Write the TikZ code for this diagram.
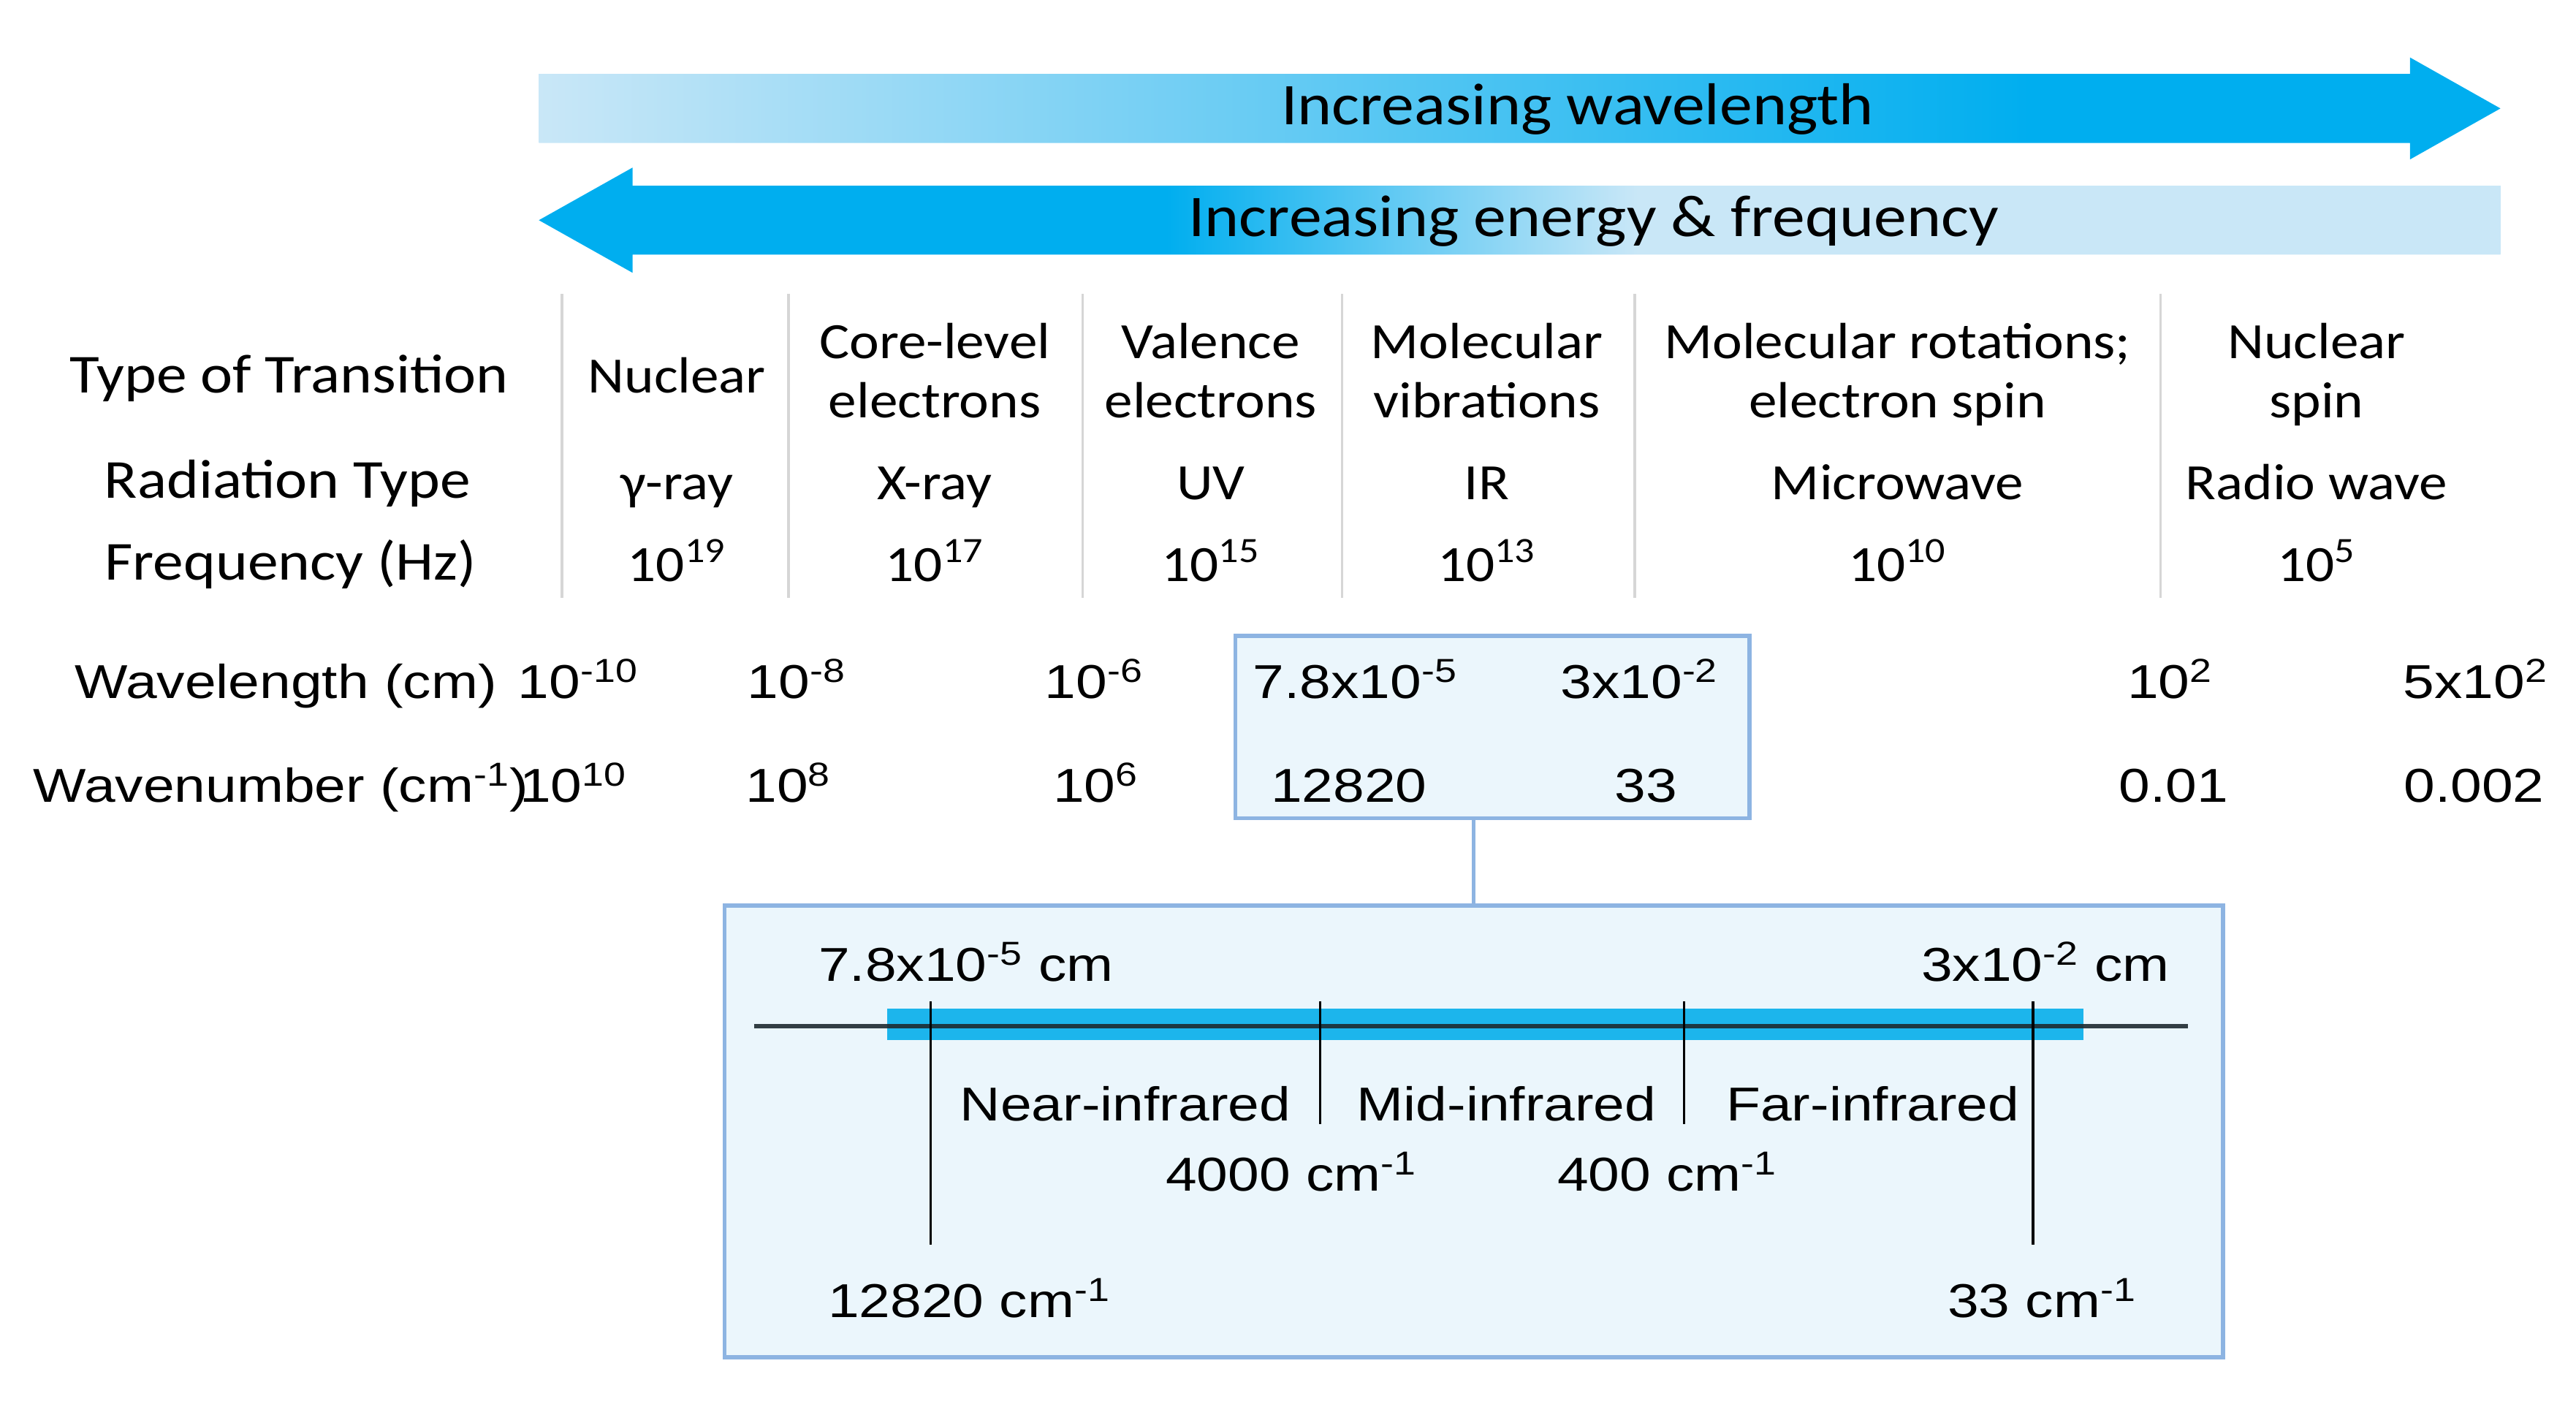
\documentclass[tikz,border=0pt]{standalone}
\usepackage{fontspec}
\usetikzlibrary{fit}
\newfontfamily\upf[FakeStretch=1.11]{Carlito}
\newfontfamily\lowf[FakeStretch=1.18]{Liberation Sans}
\definecolor{palec}{HTML}{C9E7F7}
\definecolor{cyanc}{HTML}{00AEEF}
\definecolor{boxfill}{HTML}{EBF6FC}
\definecolor{boxline}{HTML}{8DB4E2}
\definecolor{sepc}{HTML}{D6D6D6}
\definecolor{barc}{HTML}{1CB5EC}
\definecolor{axisc}{HTML}{1E2A30}
\pgfdeclarehorizontalshading{wlgrad}{100bp}{color(0bp)=(palec); color(25bp)=(palec); color(63bp)=(cyanc); color(100bp)=(cyanc)}
\pgfdeclarehorizontalshading{engrad}{100bp}{color(0bp)=(cyanc); color(41bp)=(cyanc); color(53bp)=(palec); color(100bp)=(palec)}
\begin{document}
\begin{tikzpicture}[x=0.022477cm, y=-0.022477cm,
 arrtxt/.style={font=\upf\fontsize{23pt}{27pt}\selectfont, anchor=base, inner sep=0},
 rowlab/.style={font=\upf\fontsize{21.4pt}{25pt}\selectfont, anchor=base, inner sep=0},
 colt/.style={font=\upf\fontsize{19.8pt}{24pt}\selectfont, anchor=base, inner sep=0},
 lowt/.style={font=\lowf\fontsize{18.5pt}{22pt}\selectfont, anchor=base, inner sep=0},
 sepline/.style={draw=sepc, line width=1pt},
 zbox/.style={draw=boxline, fill=boxfill, line width=1.6pt, inner sep=0},
 tickline/.style={draw=black, line width=1pt},
]
\useasboundingbox (0,0) rectangle (1568,861);

% gradient arrows
\shade[shading=wlgrad] (328,45) -- (1467,45) -- (1467,35) -- (1522,66) -- (1467,97) -- (1467,87) -- (328,87) -- cycle;
\shade[shading=engrad] (1522,113) -- (385,113) -- (385,102) -- (328,134) -- (385,166) -- (385,155) -- (1522,155) -- cycle;
\node[arrtxt] (wl) at (960,76) {Increasing wavelength};
\node[arrtxt] (en) at (970,144) {Increasing energy \& frequency};

% table separators
\foreach \sx/\nm in {342/s1,480/s2,659/s3,817/s4,995/s5,1315/s6}{
  \draw[sepline] (\sx,179) -- (\sx,364);
}

% row labels
\node[rowlab] (rl1) at (176,239) {Type of Transition};
\node[rowlab] (rl2) at (175,303) {Radiation Type};
\node[rowlab] (rl3) at (177,353) {Frequency (Hz)};

% columns
\node[colt] (c1a) at (412,239) {Nuclear};
\node[colt] (c2a) at (569,218) {Core-level};
\node[colt] (c2b) at (569,254) {electrons};
\node[colt] (c3a) at (737,218) {Valence};
\node[colt] (c3b) at (737,254) {electrons};
\node[colt] (c4a) at (905,218) {Molecular};
\node[colt] (c4b) at (905,254) {vibrations};
\node[colt] (c5a) at (1155,218) {Molecular rotations;};
\node[colt] (c5b) at (1155,254) {electron spin};
\node[colt] (c6a) at (1410,218) {Nuclear};
\node[colt] (c6b) at (1410,254) {spin};

\node[colt] (r1) at (412,304) {γ-ray};
\node[colt] (r2) at (569,304) {X-ray};
\node[colt] (r3) at (737,304) {UV};
\node[colt] (r4) at (905,304) {IR};
\node[colt] (r5) at (1155,304) {Microwave};
\node[colt] (r6) at (1410,304) {Radio wave};

\node[colt] (f1) at (412,354) {10\textsuperscript{19}};
\node[colt] (f2) at (569,354) {10\textsuperscript{17}};
\node[colt] (f3) at (737,354) {10\textsuperscript{15}};
\node[colt] (f4) at (905,354) {10\textsuperscript{13}};
\node[colt] (f5) at (1155,354) {10\textsuperscript{10}};
\node[colt] (f6) at (1410,354) {10\textsuperscript{5}};

% box 1
\node[zbox, fit={(752,387) (1065,498)}] (box1) {};
% box 2
\node[zbox, fit={(441,551) (1353,826)}] (box2) {};
\draw[boxline, line width=1.6pt] (box2.north) -- (box2.north |- box1.south);

% wavelength / wavenumber rows
\node[lowt] (wlab) at (174,425) {Wavelength (cm)};
\node[lowt] (w1) at (352,425) {10\textsuperscript{-10}};
\node[lowt] (w2) at (485,425) {10\textsuperscript{-8}};
\node[lowt] (w3) at (666,425) {10\textsuperscript{-6}};
\node[lowt] (w4) at (825,425) {7.8x10\textsuperscript{-5}};
\node[lowt] (w5) at (998,425) {3x10\textsuperscript{-2}};
\node[lowt] (w6) at (1321,425) {10\textsuperscript{2}};
\node[lowt] (w7) at (1507,425) {5x10\textsuperscript{2}};

\node[lowt] (nlab) at (171,488) {Wavenumber (cm\textsuperscript{-1})};
\node[lowt] (n1) at (349,488) {10\textsuperscript{10}};
\node[lowt] (n2) at (480,488) {10\textsuperscript{8}};
\node[lowt] (n3) at (667,488) {10\textsuperscript{6}};
\node[lowt] (n4) at (821,488) {12820};
\node[lowt] (n5) at (1002,488) {33};
\node[lowt] (n6) at (1323,488) {0.01};
\node[lowt] (n7) at (1506,488) {0.002};

% IR scale inside box 2
\fill[barc] (540,614) rectangle (1268,633);
\draw[axisc, opacity=0.9, line width=1.7pt] (459,624.5) -- (1332,624.5);
\draw[tickline] (566.5,609.5) -- (566.5,757.5);
\draw[tickline] (803.5,609.5) -- (803.5,684);
\draw[tickline] (1025,609.5) -- (1025,684);
\draw[tickline] (1237.5,609.5) -- (1237.5,757.5);

\node[lowt] (t1) at (588,597) {7.8x10\textsuperscript{-5} cm};
\node[lowt] (t2) at (1245,597) {3x10\textsuperscript{-2} cm};
\node[lowt] (nir) at (685,682) {Near-infrared};
\node[lowt] (mir) at (917,682) {Mid-infrared};
\node[lowt] (fir) at (1140,682) {Far-infrared};
\node[lowt] (k1) at (786,725) {4000 cm\textsuperscript{-1}};
\node[lowt] (k2) at (1015,725) {400 cm\textsuperscript{-1}};
\node[lowt] (b1) at (590,802) {12820 cm\textsuperscript{-1}};
\node[lowt] (b2) at (1243,802) {33 cm\textsuperscript{-1}};
\end{tikzpicture}
\end{document}
